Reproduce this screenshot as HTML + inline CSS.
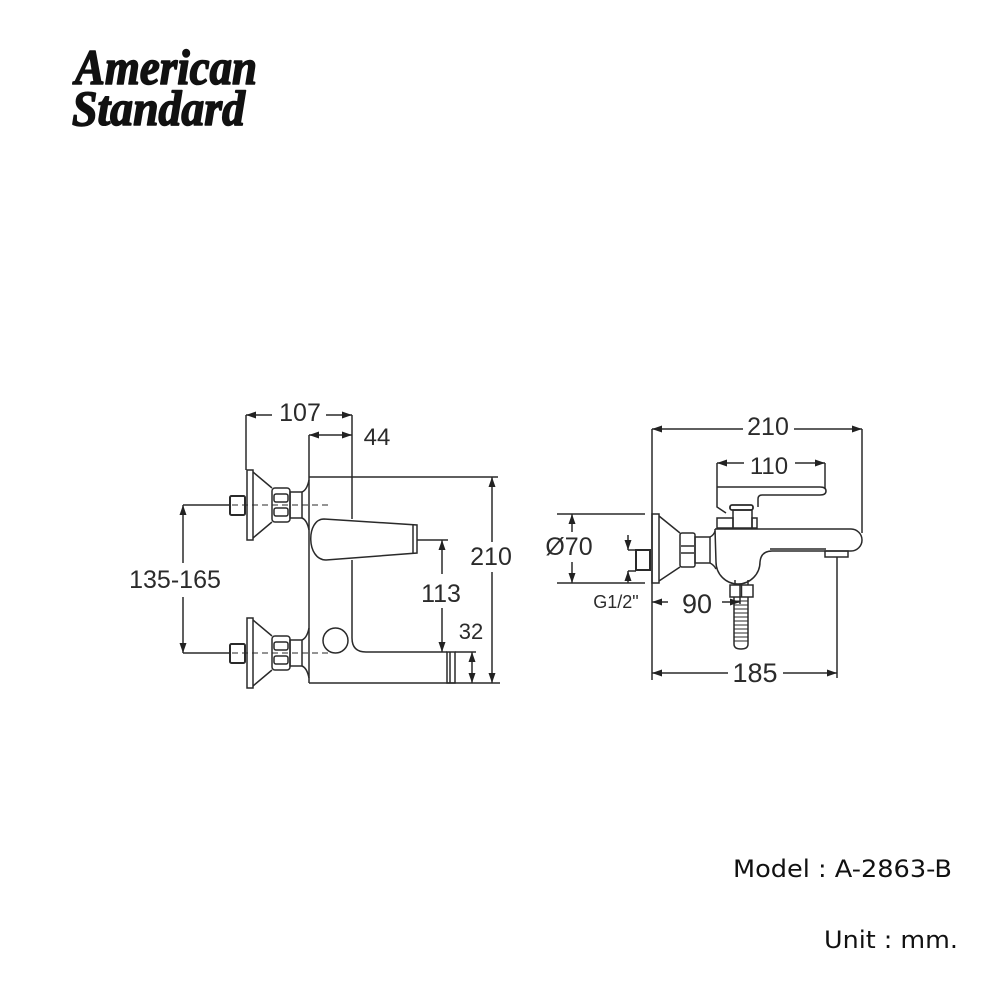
<!DOCTYPE html>
<html><head><meta charset="utf-8"><style>
html,body{margin:0;padding:0;background:#fff;}
svg{display:block;}
.d{font-family:"Liberation Sans",Arial,sans-serif;fill:#2b2b2b;}
</style></head><body>
<svg width="1000" height="1000" viewBox="0 0 1000 1000" xmlns="http://www.w3.org/2000/svg">
<defs>
<marker id="a" viewBox="0 0 10 7" refX="10" refY="3.5" markerWidth="10" markerHeight="7" markerUnits="userSpaceOnUse" orient="auto-start-reverse"><path d="M0,0L10,3.5L0,7z" fill="#222"/></marker>
</defs>
<rect width="1000" height="1000" fill="#fff"/>

<!-- Logo -->
<g font-family="'Liberation Serif',serif" font-style="italic" font-weight="bold" fill="#111" stroke="#111" stroke-width="1.6" stroke-linejoin="round">
<text x="75" y="84" font-size="50" textLength="182" lengthAdjust="spacingAndGlyphs">American</text>
<text x="72" y="125" font-size="50" textLength="173" lengthAdjust="spacingAndGlyphs">Standard</text>
</g>

<g stroke="#2a2a2a" stroke-width="1.5" fill="none">
<!-- ===== LEFT DRAWING ===== -->
<line x1="246" y1="415" x2="272" y2="415" marker-start="url(#a)"/>
<line x1="326" y1="415" x2="352" y2="415" marker-end="url(#a)"/>
<line x1="246" y1="415" x2="246" y2="470"/>
<line x1="352" y1="415" x2="352" y2="519"/>
<line x1="309" y1="435" x2="352" y2="435" marker-start="url(#a)" marker-end="url(#a)"/>
<line x1="309" y1="435" x2="309" y2="683"/>
<line x1="309" y1="477" x2="498" y2="477"/>
<line x1="309" y1="683" x2="500" y2="683"/>
<line x1="492" y1="477" x2="492" y2="542" marker-start="url(#a)"/>
<line x1="492" y1="572" x2="492" y2="683" marker-end="url(#a)"/>
<path d="M324,519 L417,525 L417,553 L326,560 C306,560 306,519 324,519 Z"/>
<line x1="413" y1="525" x2="413" y2="553"/>
<line x1="417" y1="540" x2="448" y2="540"/>
<line x1="442" y1="540" x2="442" y2="574" marker-start="url(#a)"/>
<line x1="442" y1="608" x2="442" y2="652" marker-end="url(#a)"/>
<path d="M352,560 L352,638 Q352,652 366,652 L447,652"/>
<rect x="447" y="652" width="8" height="31"/>
<line x1="450" y1="652" x2="450" y2="683"/>
<line x1="455" y1="652" x2="476" y2="652"/>
<line x1="472" y1="652" x2="472" y2="683" marker-start="url(#a)" marker-end="url(#a)"/>
<circle cx="335.5" cy="640.5" r="12.5"/>
<line x1="232" y1="505" x2="330" y2="505" stroke-dasharray="6,4" stroke-width="1.1"/>
<line x1="232" y1="653" x2="330" y2="653" stroke-dasharray="6,4" stroke-width="1.1"/>
<line x1="183" y1="505" x2="230" y2="505"/>
<line x1="183" y1="653" x2="230" y2="653"/>
<line x1="183" y1="505" x2="183" y2="563" marker-start="url(#a)"/>
<line x1="183" y1="597" x2="183" y2="653" marker-end="url(#a)"/>

<g>
<rect x="230" y="496" width="15" height="19" rx="1.5" stroke-width="2"/>
<rect x="247" y="470" width="6" height="70"/>
<path d="M253,472 L272,488 M253,538 L272,522"/>
<rect x="272" y="488" width="18" height="34" rx="3"/>
<rect x="274" y="494" width="14" height="8" rx="2"/>
<rect x="274" y="508" width="14" height="8" rx="2"/>
<rect x="290" y="492" width="12" height="26"/>
<path d="M302,492 Q307,490 309,480 M302,518 Q307,520 309,530"/>
</g>
<g transform="translate(0,148)">
<rect x="230" y="496" width="15" height="19" rx="1.5" stroke-width="2"/>
<rect x="247" y="470" width="6" height="70"/>
<path d="M253,472 L272,488 M253,538 L272,522"/>
<rect x="272" y="488" width="18" height="34" rx="3"/>
<rect x="274" y="494" width="14" height="8" rx="2"/>
<rect x="274" y="508" width="14" height="8" rx="2"/>
<rect x="290" y="492" width="12" height="26"/>
<path d="M302,492 Q307,490 309,480 M302,518 Q307,520 309,530"/>
</g>

<!-- ===== RIGHT DRAWING ===== -->
<line x1="652" y1="429" x2="743" y2="429" marker-start="url(#a)"/>
<line x1="794" y1="429" x2="862" y2="429" marker-end="url(#a)"/>
<line x1="652" y1="429" x2="652" y2="680"/>
<line x1="862" y1="429" x2="862" y2="533"/>
<line x1="717" y1="463" x2="744" y2="463" marker-start="url(#a)"/>
<line x1="795" y1="463" x2="825" y2="463" marker-end="url(#a)"/>
<line x1="717" y1="463" x2="717" y2="487"/>
<line x1="825" y1="463" x2="825" y2="489"/>
<path d="M717,487 L820,487 Q826,487 826,491 Q826,495 820,495 L762,495 Q758,495 758,499 L758,507"/>
<path d="M717,487 L717,507 L726,513"/>
<rect x="730" y="505" width="23" height="5" rx="2" stroke-width="1.8"/>
<rect x="733" y="510" width="19" height="18"/>
<rect x="717" y="518" width="16" height="10"/>
<rect x="752" y="518" width="5" height="10"/>
<path d="M715,529 L851,529 A11,11 0 0 1 851,551 L772,551 Q761,551 760,562 A22,22 0 0 1 716,562 L715,529"/>
<line x1="770" y1="549" x2="826" y2="549"/>
<rect x="825" y="551" width="23" height="6"/>
<line x1="837" y1="557" x2="837" y2="678"/>
<rect x="652" y="514" width="7" height="69"/>
<path d="M659,516 L680,533 M659,581 L680,567"/>
<rect x="680" y="533" width="15" height="34" rx="2"/>
<line x1="681" y1="546" x2="694" y2="546"/>
<line x1="681" y1="553" x2="694" y2="553"/>
<rect x="695" y="537" width="15" height="26"/>
<path d="M710,537 Q714,535 715,531 M710,563 Q714,565 716,569"/>
<rect x="636" y="550" width="14" height="20" stroke-width="2"/>
<line x1="628" y1="550" x2="636" y2="550"/>
<line x1="628" y1="571" x2="636" y2="571"/>
<line x1="628" y1="535" x2="628" y2="550" marker-end="url(#a)"/>
<line x1="628" y1="583" x2="628" y2="571" marker-end="url(#a)"/>
<line x1="557" y1="514" x2="645" y2="514"/>
<line x1="557" y1="583" x2="645" y2="583"/>
<line x1="572" y1="514" x2="572" y2="532" marker-start="url(#a)"/>
<line x1="572" y1="562" x2="572" y2="583" marker-end="url(#a)"/>
<path d="M735,580 L735,585 M748,580 L748,585"/>
<rect x="730" y="585" width="23" height="12"/>
<line x1="741.5" y1="585" x2="741.5" y2="597"/>
<path d="M734,597 L734,644 Q734,649 741,649 Q748,649 748,644 L748,597"/>
<path d="M734,601h14M734,605h14M734,609h14M734,613h14M734,617h14M734,621h14M734,625h14M734,629h14M734,633h14M734,637h14M734,641h14" stroke-width="1"/>
<line x1="740" y1="585" x2="740" y2="604"/>
<line x1="652" y1="602" x2="668" y2="602" marker-start="url(#a)"/>
<line x1="722" y1="602" x2="740" y2="602" marker-end="url(#a)"/>
<line x1="652" y1="673" x2="728" y2="673" marker-start="url(#a)"/>
<line x1="783" y1="673" x2="837" y2="673" marker-end="url(#a)"/>
</g>

<g class="d">
<text x="300" y="421" font-size="25" text-anchor="middle">107</text>
<text x="377" y="445" font-size="24" text-anchor="middle">44</text>
<text x="491" y="565" font-size="25" text-anchor="middle">210</text>
<text x="441" y="602" font-size="25" text-anchor="middle">113</text>
<text x="471" y="639" font-size="22" text-anchor="middle">32</text>
<text x="175" y="588" font-size="25" text-anchor="middle">135-165</text>
<text x="768" y="435" font-size="25" text-anchor="middle">210</text>
<text x="769" y="474" font-size="24" text-anchor="middle">110</text>
<text x="569" y="555" font-size="25" text-anchor="middle">Ø70</text>
<text x="616" y="608" font-size="18" text-anchor="middle">G1/2"</text>
<text x="697" y="613" font-size="27" text-anchor="middle">90</text>
<text x="755" y="682" font-size="27" text-anchor="middle">185</text>
</g>

<g font-family="'DejaVu Sans','Liberation Sans',sans-serif" fill="#111">
<text x="733" y="877" font-size="24" textLength="219" lengthAdjust="spacingAndGlyphs">Model : A-2863-B</text>
<text x="824" y="948" font-size="24" textLength="134" lengthAdjust="spacingAndGlyphs">Unit : mm.</text>
</g>
</svg>
</body></html>
